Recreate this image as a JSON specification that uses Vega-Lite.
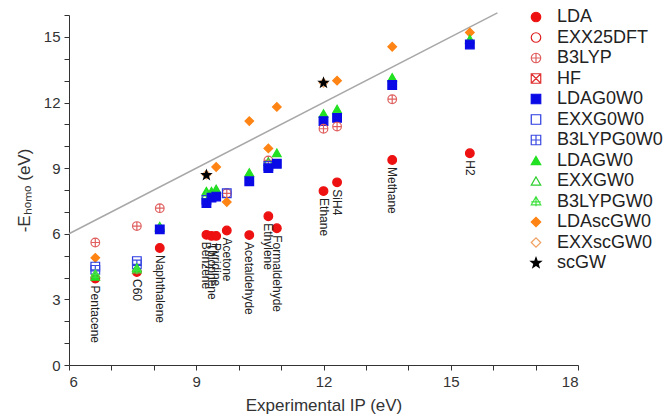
{
  "$schema": "https://vega.github.io/schema/vega-lite/v6.json",
  "width": 509,
  "height": 350,
  "autosize": {"type": "none"},
  "padding": {"left": 69, "top": 15, "right": 91, "bottom": 54},
  "background": "white",
  "config": {
    "view": {"stroke": null},
    "axis": {
      "grid": false,
      "domainColor": "#333333",
      "tickColor": "#333333",
      "labelFont": "Liberation Sans",
      "labelFontSize": 15,
      "labelColor": "#333333",
      "titleFont": "Liberation Sans",
      "titleFontSize": 17,
      "titleFontWeight": "normal",
      "titleColor": "#333333",
      "tickSize": 5
    },
    "legend": {
      "labelFont": "Liberation Sans",
      "labelFontSize": 18,
      "labelColor": "#222222"
    }
  },
  "datasets": {
    "diag": [{"x": 6, "y": 6}, {"x": 16.1, "y": 16.1}],
    "pts": [
      {"mol": "Pentacene", "series": "LDA", "x": 6.62, "y": 3.95, "label": "Pentacene"},
      {"mol": "Pentacene", "series": "B3LYP", "x": 6.62, "y": 5.6},
      {"mol": "Pentacene", "series": "LDAscGW0", "x": 6.62, "y": 4.9},
      {"mol": "Pentacene", "series": "EXXG0W0", "x": 6.62, "y": 4.5},
      {"mol": "Pentacene", "series": "B3LYPG0W0", "x": 6.62, "y": 4.35},
      {"mol": "Pentacene", "series": "LDAGW0", "x": 6.62, "y": 4.05},
      {"mol": "Pentacene", "series": "B3LYPGW0", "x": 6.62, "y": 4.15},
      {"mol": "C60", "series": "LDA", "x": 7.6, "y": 4.25, "label": "C60"},
      {"mol": "C60", "series": "B3LYP", "x": 7.6, "y": 6.35},
      {"mol": "C60", "series": "EXXG0W0", "x": 7.6, "y": 4.75},
      {"mol": "C60", "series": "B3LYPG0W0", "x": 7.6, "y": 4.6},
      {"mol": "C60", "series": "LDAGW0", "x": 7.6, "y": 4.45},
      {"mol": "C60", "series": "B3LYPGW0", "x": 7.6, "y": 4.35},
      {"mol": "Naphthalene", "series": "LDA", "x": 8.14, "y": 5.35, "label": "Naphthalene"},
      {"mol": "Naphthalene", "series": "B3LYP", "x": 8.14, "y": 7.17},
      {"mol": "Naphthalene", "series": "LDAGW0", "x": 8.14, "y": 6.35},
      {"mol": "Naphthalene", "series": "B3LYPGW0", "x": 8.14, "y": 6.25},
      {"mol": "Naphthalene", "series": "LDAG0W0", "x": 8.14, "y": 6.2},
      {"mol": "Benzene", "series": "LDA", "x": 9.24, "y": 5.95, "label": "Benzene"},
      {"mol": "Benzene", "series": "EXXscGW0", "x": 9.24, "y": 8.7},
      {"mol": "Benzene", "series": "scGW", "x": 9.24, "y": 8.68},
      {"mol": "Benzene", "series": "LDAGW0", "x": 9.24, "y": 7.95},
      {"mol": "Benzene", "series": "B3LYPGW0", "x": 9.24, "y": 7.75},
      {"mol": "Benzene", "series": "EXXG0W0", "x": 9.24, "y": 7.55},
      {"mol": "Benzene", "series": "LDAG0W0", "x": 9.24, "y": 7.4},
      {"mol": "Thiophene", "series": "LDA", "x": 9.36, "y": 5.9, "label": "Thiophene"},
      {"mol": "Thiophene", "series": "LDAGW0", "x": 9.36, "y": 7.95},
      {"mol": "Thiophene", "series": "LDAG0W0", "x": 9.36, "y": 7.65},
      {"mol": "Pyridine", "series": "LDA", "x": 9.47, "y": 5.9, "label": "Pyridine"},
      {"mol": "Pyridine", "series": "LDAscGW0", "x": 9.47, "y": 9.05},
      {"mol": "Pyridine", "series": "EXXGW0", "x": 9.47, "y": 8.05},
      {"mol": "Pyridine", "series": "LDAGW0", "x": 9.47, "y": 8.0},
      {"mol": "Pyridine", "series": "LDAG0W0", "x": 9.47, "y": 7.7},
      {"mol": "Acetone", "series": "LDA", "x": 9.72, "y": 6.15, "label": "Acetone"},
      {"mol": "Acetone", "series": "B3LYP", "x": 9.72, "y": 7.85},
      {"mol": "Acetone", "series": "EXXG0W0", "x": 9.72, "y": 7.85},
      {"mol": "Acetone", "series": "LDAscGW0", "x": 9.72, "y": 7.45},
      {"mol": "Acetaldehyde", "series": "LDA", "x": 10.25, "y": 5.94, "label": "Acetaldehyde"},
      {"mol": "Acetaldehyde", "series": "LDAGW0", "x": 10.25, "y": 8.8},
      {"mol": "Acetaldehyde", "series": "LDAG0W0", "x": 10.25, "y": 8.4},
      {"mol": "Acetaldehyde", "series": "LDAscGW0", "x": 10.25, "y": 11.15},
      {"mol": "Ethylene", "series": "LDA", "x": 10.7, "y": 6.8, "label": "Ethylene"},
      {"mol": "Ethylene", "series": "LDAscGW0", "x": 10.7, "y": 9.9},
      {"mol": "Ethylene", "series": "B3LYP", "x": 10.7, "y": 9.35},
      {"mol": "Ethylene", "series": "EXXGW0", "x": 10.7, "y": 9.3},
      {"mol": "Ethylene", "series": "EXXG0W0", "x": 10.7, "y": 9.1},
      {"mol": "Ethylene", "series": "LDAG0W0", "x": 10.7, "y": 9.0},
      {"mol": "Formaldehyde", "series": "LDA", "x": 10.9, "y": 6.25, "label": "Formaldehyde"},
      {"mol": "Formaldehyde", "series": "LDAscGW0", "x": 10.9, "y": 11.8},
      {"mol": "Formaldehyde", "series": "LDAGW0", "x": 10.9, "y": 9.7},
      {"mol": "Formaldehyde", "series": "LDAG0W0", "x": 10.9, "y": 9.2},
      {"mol": "Ethane", "series": "LDA", "x": 12.0, "y": 7.95, "label": "Ethane"},
      {"mol": "Ethane", "series": "EXXscGW0", "x": 12.0, "y": 12.9},
      {"mol": "Ethane", "series": "scGW", "x": 12.0, "y": 12.9},
      {"mol": "Ethane", "series": "LDAGW0", "x": 12.0, "y": 11.5},
      {"mol": "Ethane", "series": "LDAG0W0", "x": 12.0, "y": 11.15},
      {"mol": "Ethane", "series": "B3LYP", "x": 12.0, "y": 10.8},
      {"mol": "SiH4", "series": "LDA", "x": 12.32, "y": 8.35, "label": "SiH4"},
      {"mol": "SiH4", "series": "LDAscGW0", "x": 12.32, "y": 13.0},
      {"mol": "SiH4", "series": "LDAGW0", "x": 12.32, "y": 11.7},
      {"mol": "SiH4", "series": "LDAG0W0", "x": 12.32, "y": 11.3},
      {"mol": "SiH4", "series": "B3LYP", "x": 12.32, "y": 10.9},
      {"mol": "Methane", "series": "LDA", "x": 13.62, "y": 9.37, "label": "Methane"},
      {"mol": "Methane", "series": "LDAscGW0", "x": 13.62, "y": 14.55},
      {"mol": "Methane", "series": "LDAGW0", "x": 13.62, "y": 13.15},
      {"mol": "Methane", "series": "LDAG0W0", "x": 13.62, "y": 12.8},
      {"mol": "Methane", "series": "B3LYP", "x": 13.62, "y": 12.15},
      {"mol": "H2", "series": "LDA", "x": 15.45, "y": 9.68, "label": "H2"},
      {"mol": "H2", "series": "LDAscGW0", "x": 15.45, "y": 15.2},
      {"mol": "H2", "series": "LDAGW0", "x": 15.45, "y": 14.9},
      {"mol": "H2", "series": "LDAG0W0", "x": 15.45, "y": 14.65}
    ]
  },
  "encoding": {
    "x": {
      "field": "x", "type": "quantitative",
      "scale": {"domain": [6, 18], "nice": false, "zero": false},
      "axis": {
        "title": "Experimental IP (eV)",
        "values": [6, 7, 8, 9, 10, 11, 12, 13, 14, 15, 16, 17, 18],
        "labelExpr": "datum.value % 3 == 0 ? datum.label : ''",
        "labelPadding": 4,
        "titlePadding": 8
      }
    },
    "y": {
      "field": "y", "type": "quantitative",
      "scale": {"domain": [0, 16], "nice": false, "zero": false},
      "axis": {
        "title": "-Eₕₒₘₒ (eV)",
        "values": [0, 1, 2, 3, 4, 5, 6, 7, 8, 9, 10, 11, 12, 13, 14, 15, 16],
        "labelExpr": "datum.value % 3 == 0 ? datum.label : ''",
        "labelPadding": 4,
        "titlePadding": 10
      }
    }
  },
  "layer": [
    {
      "data": {"name": "diag"},
      "mark": {"type": "line", "color": "#a8a8a8", "strokeWidth": 1.5},
      "encoding": {}
    },
    {
      "data": {"name": "pts"},
      "mark": {"type": "point", "size": 75, "strokeWidth": 1.2, "opacity": 1},
      "encoding": {
        "shape": {
          "field": "series", "type": "nominal",
          "scale": {
            "domain": ["LDA", "EXX25DFT", "B3LYP", "HF", "LDAG0W0", "EXXG0W0", "B3LYPG0W0", "LDAGW0", "EXXGW0", "B3LYPGW0", "LDAscGW0", "EXXscGW0", "scGW"],
            "range": ["circle", "circle", "M-1,0A1,1 0 1,1 1,0A1,1 0 1,1 -1,0ZM-1,0H1M0,-1V1", "M-1,-1H1V1H-1ZM-1,-1L1,1M1,-1L-1,1", "square", "square", "M-1,-1H1V1H-1ZM-1,0H1M0,-1V1", "triangle-up", "triangle-up", "M0,-1L1,0.7H-1ZM-1,0.1H1M0,-1V1", "diamond", "diamond", "M0,-1.1L0.26,-0.36L1.05,-0.34L0.42,0.14L0.65,0.9L0,0.45L-0.65,0.9L-0.42,0.14L-1.05,-0.34L-0.26,-0.36Z"]
          },
          "legend": {"title": null, "orient": "none", "legendX": 458, "legendY": -7, "symbolSize": 90, "labelOffset": 12, "rowPadding": 2.5, "padding": 0, "symbolStrokeWidth": 1.2}
        },
        "fill": {
          "field": "series", "type": "nominal",
          "scale": {
            "domain": ["LDA", "EXX25DFT", "B3LYP", "HF", "LDAG0W0", "EXXG0W0", "B3LYPG0W0", "LDAGW0", "EXXGW0", "B3LYPGW0", "LDAscGW0", "EXXscGW0", "scGW"],
            "range": ["#ee1111", "transparent", "transparent", "transparent", "#0a0ae6", "transparent", "transparent", "#22e022", "transparent", "transparent", "#ff8414", "transparent", "#000000"]
          },
          "legend": {"title": null, "orient": "none", "legendX": 458, "legendY": -7, "symbolSize": 90, "labelOffset": 12, "rowPadding": 2.5, "padding": 0, "symbolStrokeWidth": 1.2}
        },
        "stroke": {
          "field": "series", "type": "nominal",
          "scale": {
            "domain": ["LDA", "EXX25DFT", "B3LYP", "HF", "LDAG0W0", "EXXG0W0", "B3LYPG0W0", "LDAGW0", "EXXGW0", "B3LYPGW0", "LDAscGW0", "EXXscGW0", "scGW"],
            "range": ["#ee1111", "#e02020", "#e06060", "#e03030", "#0a0ae6", "#2a3ae0", "#3a4ae0", "#22e022", "#30d030", "#40e040", "#ff8414", "#f0a060", "#000000"]
          },
          "legend": {"title": null, "orient": "none", "legendX": 458, "legendY": -7, "symbolSize": 90, "labelOffset": 12, "rowPadding": 2.5, "padding": 0, "symbolStrokeWidth": 1.2}
        }
      }
    },
    {
      "data": {"name": "pts"},
      "transform": [{"filter": "datum.label"}],
      "mark": {"type": "text", "angle": 90, "align": "left", "baseline": "middle", "dx": 7, "font": "Liberation Sans", "fontSize": 12, "color": "#222222"},
      "encoding": {"text": {"field": "label", "type": "nominal"}}
    }
  ]
}
